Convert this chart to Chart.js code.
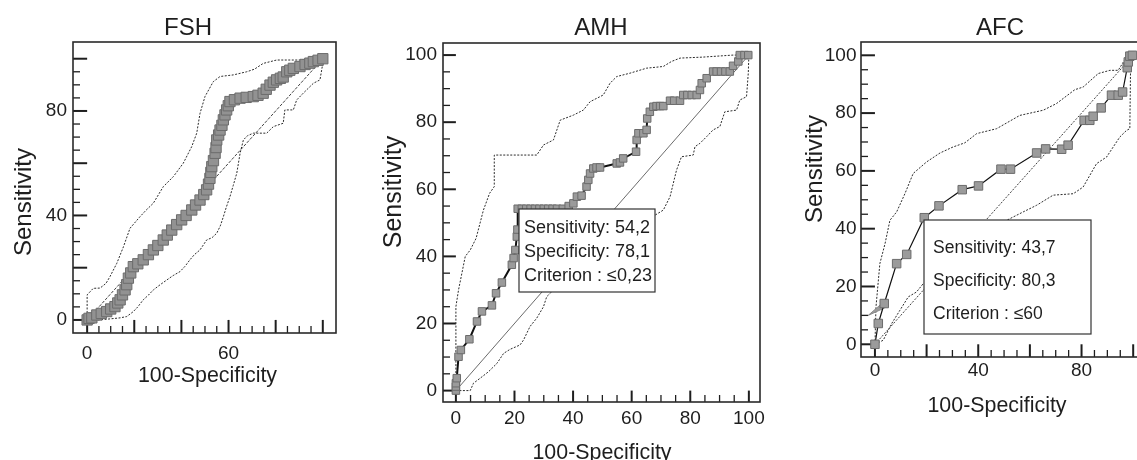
<!DOCTYPE html>
<html>
<head>
<meta charset="utf-8">
<script src="https://cdn.jsdelivr.net/npm/chart.js@4.4.1/dist/chart.umd.min.js"></script>
<style>
  html, body { margin: 0; padding: 0; background: #fff; overflow: hidden; }
  body { width: 1137px; height: 460px; position: relative; }
  canvas { position: absolute; left: 0; top: 0; }
</style>
</head>
<body>
<canvas id="fsh" width="1160" height="460"></canvas>
<canvas id="amh" width="1160" height="460"></canvas>
<canvas id="afc" width="1160" height="460"></canvas>
<script>
// ROC points (x = 100-Specificity, y = Sensitivity)
const fshX = [0, 0.8, 2, 4.1, 6, 8.3, 10, 11.8, 13, 14, 15, 16.1, 16.8, 17.5, 18.5, 19.6, 21.5, 23.8, 26, 28.1, 30, 32.3, 34, 35.9, 38, 40.1, 42, 44.4, 46, 47.9, 49.5, 50.7, 51.5, 52.1, 52.5, 52.9, 53.6, 54.3, 54.7, 55, 55.8, 56.4, 57.2, 57.8, 58.5, 59.2, 59.9, 60.6, 62.5, 64.9, 67.5, 70.5, 72.5, 74.7, 76, 77.6, 79, 80.4, 82, 83.2, 84.7, 86, 87.5, 90.3, 92.5, 94.5, 96, 98, 100];
const fshY = [0, 0.6, 0.8, 1.9, 2.5, 3.2, 4.2, 5.1, 6.5, 7.7, 9.6, 11.5, 13.5, 16, 18, 20.4, 21.5, 23, 25, 26.8, 28.5, 30.6, 32.5, 34.4, 36.5, 38.3, 40, 42.1, 44, 45.9, 48, 49.8, 52, 54.2, 56.5, 58.7, 61, 63.8, 66, 68.9, 70.8, 72.7, 74.5, 76.6, 78.5, 80.4, 82, 83.6, 84.3, 84.9, 85.2, 85.5, 86, 86.8, 88.3, 89.9, 91, 91.9, 92.5, 93, 95, 95.6, 96.3, 97, 97.8, 98.3, 98.9, 99.4, 100];
const fshUpX = [0, 0, 2.6, 5.5, 8, 9.7, 12.6, 15.4, 18.2, 22.4, 25, 28.1, 32.3, 36.6, 40.8, 44.4, 46.5, 47.9, 50, 53.5, 56.4, 62, 67.7, 71, 74.7, 80.4, 90.3, 100];
const fshUpY = [0, 9.6, 12.1, 12.2, 14, 16.6, 21.7, 28, 35.1, 39.5, 42, 44.7, 51, 54.9, 60, 66.4, 71.5, 79.1, 85.5, 91.2, 93.2, 93.8, 95, 96, 98.2, 99.5, 99.5, 100];
const fshLoX = [0, 5, 9.7, 14, 16.8, 19.6, 21.5, 23.8, 26, 28.1, 31, 33.8, 36.5, 39.4, 41.5, 43.6, 45.5, 47.9, 50.7, 53, 55, 56.5, 57.8, 59, 60.6, 62, 63.5, 64.2, 64.9, 66.3, 68, 70.5, 76.2, 79, 83.2, 83.9, 87.5, 88.9, 91.7, 96, 98.8, 100, 100];
const fshLoY = [0, 0, 0.4, 0.8, 1.3, 3.2, 5, 7.7, 9.5, 11.5, 13.5, 15.3, 17, 18.5, 20.5, 23, 25, 26.8, 30.6, 31.5, 33.2, 36, 39.5, 43, 47.2, 51.5, 56.2, 60, 63.8, 68.9, 70.5, 71.5, 71.5, 74, 75.3, 80.4, 80.4, 84.2, 86.8, 90.6, 91.9, 98.2, 100];

const amhX = [0, 0, 0, 0.3, 0.9, 1.7, 4.6, 7.2, 8.9, 12.3, 13.7, 15.7, 19.1, 19.7, 20.3, 20.8, 21, 21.1, 22.5, 24, 25.5, 27, 28.5, 30, 31.5, 33, 34.5, 36.5, 38.5, 40.1, 41.3, 42.9, 44.6, 45.2, 45.8, 46.9, 48, 49.2, 54.9, 56, 57.1, 61.5, 61.7, 62.3, 64, 65.1, 65.3, 66.2, 67.4, 68.5, 69.7, 70.8, 73.1, 74.5, 76.5, 77.6, 79, 80.5, 82.2, 83.3, 83.9, 85.6, 87.8, 89, 90.5, 92, 93.5, 94.6, 96.4, 96.9, 98.5, 99.8];
const amhY = [0, 1.2, 2.2, 3.7, 10.1, 12.1, 15.3, 20.6, 23.6, 25.4, 29, 32.2, 37.5, 39.5, 41.9, 45.9, 48, 54.2, 54.2, 54.2, 54.2, 54.2, 54.2, 54.2, 54.2, 54.2, 54.2, 54.2, 55, 55.8, 57.8, 58.1, 60.8, 62.8, 64.7, 66.2, 66.5, 66.5, 67.7, 68, 69.2, 71.2, 74.7, 76.7, 76.7, 77.7, 81.1, 83.1, 84.6, 84.8, 84.8, 84.8, 86.4, 86.4, 86.4, 88.1, 88.1, 88.1, 88.1, 89.6, 91.6, 93.1, 95.1, 95.1, 95.1, 95.1, 95.1, 96.8, 98.1, 100, 100, 100];
const amhUpX = [0, 0, 0.9, 3.2, 4.9, 6.9, 9.4, 11.5, 13.1, 13.1, 27.6, 29.9, 33.3, 35.6, 40.1, 43.5, 45.8, 50.3, 52.6, 54.9, 59.4, 65.1, 70.8, 73.6, 76.5, 84.4, 94.6, 100];
const amhUpY = [0, 25, 30, 40, 41.9, 45.4, 53.8, 58.8, 60.8, 70.2, 70.2, 73.2, 74.7, 80.6, 82.1, 83.6, 86.1, 88.1, 91.6, 93.6, 94.6, 96.1, 96.6, 98.1, 99.1, 99.4, 100, 100];
const amhLoX = [0, 4.9, 6, 8.3, 11.1, 14, 16.3, 18.5, 21.9, 23.1, 25.3, 27.6, 29.9, 31, 32.2, 36, 42, 48, 55, 62, 68, 70.8, 73.1, 75.3, 77, 81, 81.6, 83.3, 85.6, 87.8, 90.1, 91.8, 95.8, 96.9, 99.2, 99.8, 100];
const amhLoY = [0, 0, 2.2, 3.7, 5.6, 8.1, 11.1, 12.3, 13.6, 15.1, 19.1, 21.6, 25, 28, 29, 33, 38, 42, 46, 50, 52.3, 53.8, 57.8, 65.7, 69.7, 70.2, 72.7, 73.7, 75.7, 77.7, 78.7, 83.1, 83.6, 86.6, 87.6, 94.6, 100];

const afcX = [0, 1.3, 3.6, 8.4, 12.3, 19.1, 24.8, 33.8, 40.1, 48.8, 52.5, 62.6, 66.1, 72.3, 74.8, 81, 83.2, 84.5, 87.6, 91.6, 94.2, 95.9, 97.7, 98.1, 98.7, 99.7];
const afcY = [0, 7.2, 14.1, 27.9, 31.1, 43.8, 47.9, 53.5, 54.8, 60.6, 60.6, 66.2, 67.6, 67.5, 68.9, 77.5, 77.5, 78.9, 81.8, 86.2, 86.2, 87.3, 95.7, 97.7, 99.7, 100];
const afcUpX = [0, 0.4, 1.9, 3.9, 5.8, 8.4, 11.6, 14.8, 20, 25.2, 30.3, 34.8, 39.4, 47.1, 56.1, 65.2, 70.3, 77.4, 80.6, 86.5, 91, 94.2, 97.4, 100];
const afcUpY = [0, 12.9, 27.9, 34.8, 42.9, 45.8, 52.1, 59.1, 63.1, 66.2, 68.3, 69.7, 72.9, 74.6, 79.2, 81, 83.3, 88.1, 89, 93.7, 94.8, 94.8, 99.4, 100];
const afcLoX = [0, 3.2, 6.5, 9.7, 12.9, 16.1, 18.7, 25, 32, 40, 46, 51, 57.4, 62.6, 69, 76.8, 80.6, 85.8, 89.7, 94.8, 97.4, 98.7, 99, 100];
const afcLoY = [0, 1.4, 7.2, 11.8, 16.4, 18.1, 21, 26, 31, 36, 40.5, 42.9, 45.8, 48.1, 51.6, 52.1, 54.4, 62.5, 64.8, 71.7, 74, 74.6, 97.1, 100];
const afcWedgeX = [-2.6, 4.2, 3.8, -2.6];
const afcWedgeY = [10, 15.3, 12.6, 10];

const diagX = [0, 100];
const diagY = [0, 100];

const fshXLabels = [0, 60];
const fshYLabels = [0, 40, 80];
const amhXLabels = [0, 20, 40, 60, 80, 100];
const amhYLabels = [0, 20, 40, 60, 80, 100];
const afcXLabels = [0, 40, 80];
const afcYLabels = [0, 20, 40, 60, 80, 100];

const amhInfo = ["Sensitivity: 54,2", "Specificity: 78,1", "Criterion : \u22640,23"];
const afcInfo = ["Sensitivity: 43,7", "Specificity: 80,3", "Criterion : \u226460"];

const FONT = '"Liberation Sans", Arial, Helvetica, sans-serif';
const INK = "#1e1e1e";
const CW = 1160, CH = 460;
const YW = 60, XH = 40; // fixed room for tick labels (labels are clipped to the scale box)

const xy = (xs, ys) => xs.map((x, i) => ({ x, y: ys[i] }));

// frame, inward tick marks, titles and the criterion box
const panelDecor = {
  id: "panelDecor",
  beforeDatasetsDraw(chart, args, o) {
    const { ctx, chartArea: a, scales: { x, y } } = chart;
    ctx.save();
    ctx.strokeStyle = INK;
    const x0 = y.getPixelForValue(0), y0 = x.getPixelForValue(0);
    for (let v = 0; v <= 100; v += 5) {
      const major = v % 20 === 0;
      ctx.lineWidth = major ? 2 : 1.3;
      const px = x.getPixelForValue(v);
      ctx.beginPath();
      ctx.moveTo(px, a.bottom);
      ctx.lineTo(px, major ? x0 : a.bottom - 7);
      ctx.stroke();
      const py = y.getPixelForValue(v);
      ctx.beginPath();
      ctx.moveTo(a.left, py);
      ctx.lineTo(major ? y0 : a.left + 7, py);
      ctx.stroke();
    }
    ctx.restore();
  },
  afterDatasetsDraw(chart, args, o) {
    const { ctx, chartArea: a } = chart;
    ctx.save();
    if (o.box) {
      const b = o.box;
      ctx.fillStyle = "#fff";
      ctx.fillRect(b.l, b.t, b.r - b.l, b.b - b.t);
      ctx.strokeStyle = "#333";
      ctx.lineWidth = 1.2;
      ctx.strokeRect(b.l, b.t, b.r - b.l, b.b - b.t);
      ctx.fillStyle = INK;
      ctx.font = `${b.size}px ${FONT}`;
      ctx.textAlign = "left";
      b.lines.forEach((t, i) => ctx.fillText(t, b.tx, b.ty[i]));
    }
    ctx.strokeStyle = "#2a2a2a";
    ctx.lineWidth = 1.6;
    ctx.strokeRect(a.left, a.top, a.right - a.left, a.bottom - a.top);
    ctx.restore();
  },
  afterDraw(chart, args, o) {
    const ctx = chart.ctx;
    ctx.save();
    ctx.fillStyle = INK;
    ctx.textAlign = "center";
    ctx.textBaseline = "alphabetic";
    ctx.font = `24px ${FONT}`;
    ctx.fillText(o.title.text, o.title.x, o.title.y);
    ctx.font = `21.4px ${FONT}`;
    ctx.fillText("100-Specificity", o.xTitle.x, o.xTitle.y);
    ctx.translate(o.yTitle.x, o.yTitle.y);
    ctx.rotate(-Math.PI / 2);
    ctx.font = `${o.yTitle.size}px ${FONT}`;
    ctx.fillText("Sensitivity", 0, 0);
    ctx.restore();
  },
};

function curve(xs, ys, radius, lineWidth, fill) {
  return {
    data: xy(xs, ys), borderColor: "#111", borderWidth: lineWidth, tension: 0,
    pointStyle: "rect", pointRadius: radius, pointBackgroundColor: fill || "#9b9b9b",
    pointBorderColor: "#6c6c6c", pointBorderWidth: 1,
  };
}
function dotted(xs, ys, dash, width) {
  return { data: xy(xs, ys), borderColor: "#2b2b2b", borderWidth: width || 1, borderDash: dash, pointRadius: 0, tension: 0 };
}

function makeChart(id, p) {
  const tickFont = { family: FONT, size: 19 };
  return new Chart(document.getElementById(id), {
    type: "line",
    data: { datasets: p.datasets },
    options: {
      responsive: false, animation: false, devicePixelRatio: 1,
      layout: { autoPadding: false, padding: { left: p.area.l - YW, top: p.area.t, right: CW - p.area.r, bottom: CH - p.area.b - XH } },
      plugins: { legend: { display: false }, tooltip: { enabled: false }, panelDecor: p.decor },
      scales: {
        x: {
          type: "linear", min: p.xr[0], max: p.xr[1],
          afterFit: (s) => { s.height = XH; },
          grid: { display: false, drawTicks: false }, border: { display: false },
          ticks: { stepSize: 20, includeBounds: false, autoSkip: false, maxRotation: 0, padding: p.xPad, font: tickFont, color: INK,
            callback: (v) => (p.xLabels.includes(v) ? String(v) : "") },
        },
        y: {
          type: "linear", min: p.yr[0], max: p.yr[1],
          afterFit: (s) => { s.width = YW; },
          grid: { display: false, drawTicks: false }, border: { display: false },
          ticks: { stepSize: 20, includeBounds: false, autoSkip: false, padding: p.yPad, font: tickFont, color: INK,
            callback: (v) => (p.yLabels.includes(v) ? String(v) : "") },
        },
      },
    },
    plugins: [panelDecor],
  });
}

makeChart("fsh", {
  area: { l: 73, t: 42, r: 336, b: 333 }, xr: [-6, 105.6], yr: [-5, 106.4],
  xLabels: fshXLabels, yLabels: fshYLabels, xPad: 9, yPad: 6,
  datasets: [
    curve(fshX, fshY, 7.3, 1, "#929292"),
    dotted(fshUpX, fshUpY, [2, 1.5]),
    dotted(fshLoX, fshLoY, [2, 1.5]),
    dotted(diagX, diagY, [3, 1.5], 0.9),
  ],
  decor: { title: { text: "FSH", x: 188, y: 35 }, xTitle: { x: 207.5, y: 382 }, yTitle: { x: 30.5, y: 202, size: 24 } },
});

makeChart("amh", {
  area: { l: 443, t: 43, r: 760, b: 402 }, xr: [-4.4, 103.8], yr: [-3.4, 103.6],
  xLabels: amhXLabels, yLabels: amhYLabels, xPad: 5, yPad: 6,
  datasets: [
    curve(amhX, amhY, 5.3, 2),
    dotted(amhUpX, amhUpY, [2, 1.5]),
    dotted(amhLoX, amhLoY, [2, 1.5]),
    dotted(diagX, diagY, [], 0.7),
  ],
  decor: {
    title: { text: "AMH", x: 601, y: 35 }, xTitle: { x: 602, y: 458.6 }, yTitle: { x: 401, y: 192, size: 25 },
    box: { l: 519, t: 209, r: 655, b: 292, size: 18, tx: 524, ty: [233, 256.5, 280.5], lines: amhInfo },
  },
});

makeChart("afc", {
  area: { l: 861, t: 42, r: 1143, b: 357 }, xr: [-5.4, 103.8], yr: [-4.4, 104.6],
  xLabels: afcXLabels, yLabels: afcYLabels, xPad: 2, yPad: 4.5,
  datasets: [
    curve(afcX, afcY, 6, 1.2),
    { data: xy(afcWedgeX, afcWedgeY), borderColor: "#8a8a8a", borderWidth: 1, backgroundColor: "#9b9b9b", fill: "shape", pointRadius: 0, tension: 0 },
    dotted(afcUpX, afcUpY, [2, 1.5]),
    dotted(afcLoX, afcLoY, [2, 1.5]),
    dotted(diagX, diagY, [2, 1.5], 0.9),
  ],
  decor: {
    title: { text: "AFC", x: 1000, y: 35 }, xTitle: { x: 997, y: 412 }, yTitle: { x: 822, y: 169, size: 24 },
    box: { l: 924, t: 220, r: 1091, b: 334, size: 17.5, tx: 933, ty: [253, 286, 319], lines: afcInfo },
  },
});
</script>
</body>
</html>
